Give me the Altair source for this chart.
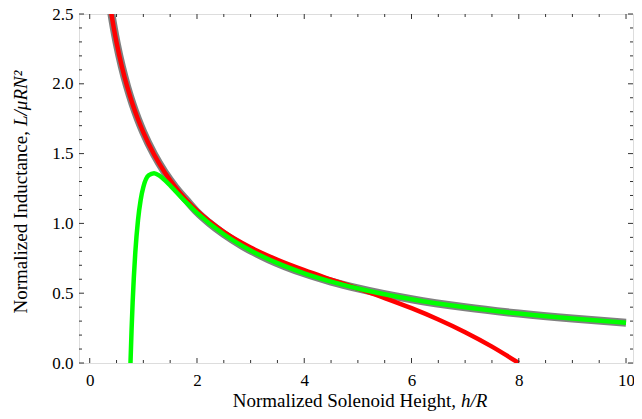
import altair as alt
import pandas as pd

# Exact (Nagaoka) normalized inductance — gray
gray_x = [0.38, 0.4, 0.45, 0.5, 0.6, 0.7, 0.8, 0.9, 1.0, 1.2, 1.4, 1.6, 1.8, 2.0,
          2.222, 2.5, 2.857, 3.333, 4.0, 4.5, 5.0, 6.0, 7.0, 8.0, 9.0, 10.0]
gray_y = [2.5619, 2.5119, 2.3977, 2.2962, 2.1222, 1.9772, 1.8536, 1.7464, 1.6522,
          1.4937, 1.3651, 1.2582, 1.1681, 1.0813, 1.0052, 0.9238, 0.8367, 0.7431,
          0.6425, 0.5832, 0.5340, 0.4567, 0.3989, 0.3541, 0.3183, 0.2891]
# Short-solenoid approximation — red
red_x = [0.38, 0.4, 0.45, 0.5, 0.6, 0.7, 0.8, 0.9, 1.0, 1.2, 1.4, 1.6, 1.8, 2.0,
         2.5, 3.0, 3.5, 4.0, 4.5, 5.0, 5.5, 6.0, 6.5, 7.0, 7.5, 8.0]
red_y = [2.5619, 2.5119, 2.3977, 2.2962, 2.1222, 1.9772, 1.8536, 1.7464, 1.6522,
         1.4937, 1.3651, 1.2582, 1.1681, 1.0908, 0.9392, 0.8270, 0.7389, 0.6647,
         0.5977, 0.5325, 0.4652, 0.3926, 0.3118, 0.2207, 0.1174, 0.0]
# Long-solenoid approximation — green
green_x = [0.76, 0.78, 0.8, 0.85, 0.9, 0.95, 1.0, 1.1, 1.2, 1.3, 1.4, 1.5, 1.6, 1.8,
           2.0, 2.5, 3.0, 3.5, 4.0, 4.5, 5.0, 6.0, 7.0, 8.0, 9.0, 10.0]
green_y = [0.0, 0.2344, 0.4315, 0.7928, 1.0231, 1.1692, 1.2603, 1.3446, 1.3595,
           1.3422, 1.3100, 1.2712, 1.2304, 1.1500, 1.0759, 0.9224, 0.8059, 0.7150,
           0.6424, 0.5832, 0.5340, 0.4567, 0.3989, 0.3541, 0.3183, 0.2891]

x_labels = [0, 2, 4, 6, 8, 10]
x_minor = [0.5, 1, 1.5, 2.5, 3, 3.5, 4.5, 5, 5.5, 6.5, 7, 7.5, 8.5, 9, 9.5]
y_labels = [0.0, 0.5, 1.0, 1.5, 2.0, 2.5]
y_minor = [0.1, 0.2, 0.3, 0.4, 0.6, 0.7, 0.8, 0.9, 1.1, 1.2, 1.3, 1.4, 1.6, 1.7,
           1.8, 1.9, 2.1, 2.2, 2.3, 2.4]

x_title_plain = "Normalized Solenoid Height,"
x_title_italic = "h/R"
y_title_plain = "Normalized  Inductance,"
y_title_italic = "L/μRN²"

W, H = 554, 349
FONT = "Liberation Serif"
FS = 17
TFS = 19
TICK = "#333333"

xscale = alt.Scale(domain=[-0.2, 10.13], nice=False, zero=False)
yscale = alt.Scale(domain=[0, 2.5], nice=False, zero=False)

xaxis = alt.Axis(values=x_labels, ticks=False, tickSize=0, domain=False, grid=False,
                 labelFont=FONT, labelFontSize=FS, labelColor="black", labelPadding=9,
                 title="", labelFlush=False)
yaxis = alt.Axis(values=y_labels, format=".1f", ticks=False, tickSize=0, domain=False,
                 grid=False, labelFont=FONT, labelFontSize=FS, labelColor="black",
                 labelPadding=6, title="", labelFlush=False)

def curve(xs, ys, color, width):
    df = pd.DataFrame({"x": xs, "y": ys})
    return alt.Chart(df).mark_line(color=color, strokeWidth=width, clip=True,
                                   interpolate="monotone").encode(
        x=alt.X("x:Q", scale=xscale, axis=xaxis),
        y=alt.Y("y:Q", scale=yscale, axis=yaxis),
    )

def xticks(vals, length):
    df = pd.DataFrame({"x": vals})
    bottom = alt.Chart(df).mark_rule(color=TICK, strokeWidth=1).encode(
        x=alt.X("x:Q", scale=xscale, axis=xaxis),
        y=alt.value(H), y2=alt.value(H - length))
    top = alt.Chart(df).mark_rule(color=TICK, strokeWidth=1).encode(
        x=alt.X("x:Q", scale=xscale, axis=xaxis),
        y=alt.value(0), y2=alt.value(length))
    return bottom + top

def yticks(vals, length):
    df = pd.DataFrame({"y": vals})
    left = alt.Chart(df).mark_rule(color=TICK, strokeWidth=1).encode(
        y=alt.Y("y:Q", scale=yscale, axis=yaxis),
        x=alt.value(0), x2=alt.value(length))
    right = alt.Chart(df).mark_rule(color=TICK, strokeWidth=1).encode(
        y=alt.Y("y:Q", scale=yscale, axis=yaxis),
        x=alt.value(W), x2=alt.value(W - length))
    return left + right

def label(text, x, y, align, italic, angle=0):
    df = pd.DataFrame({"t": [text]})
    return alt.Chart(df).mark_text(
        font=FONT, fontSize=TFS, fontStyle="italic" if italic else "normal",
        align=align, baseline="alphabetic", angle=angle, color="black",
    ).encode(text="t:N", x=alt.value(x), y=alt.value(y))

titles = alt.layer(
    label(x_title_plain, 377, 393, "right", False),
    label(x_title_italic, 382, 393, "left", True),
    label(y_title_plain, -52, 117, "right", False, 270),
    label(y_title_italic, -52, 112, "left", True, 270),
)

chart = alt.layer(
    curve(gray_x, gray_y, "#808080", 8),
    curve(red_x, red_y, "#ff0000", 4.5),
    curve(green_x, green_y, "#00ff00", 4.5),
    xticks(x_labels, 5), xticks(x_minor, 3),
    yticks(y_labels, 5), yticks(y_minor, 3),
    titles,
).properties(
    width=W, height=H,
    autosize=alt.AutoSizeParams(type="none"),
    padding={"left": 71, "top": 6, "right": 1, "bottom": 48},
).configure_view(stroke="#222222", strokeWidth=1).configure(background="white")

chart.save("out.html", embed_options={"renderer": "svg", "actions": False})
